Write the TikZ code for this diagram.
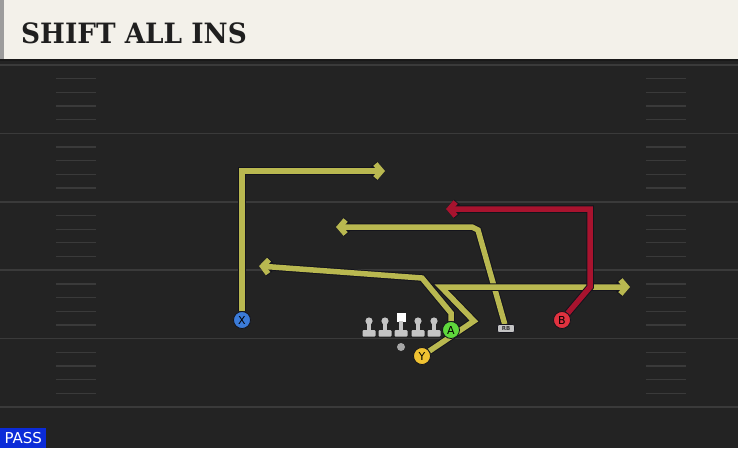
\documentclass[tikz,border=0pt]{standalone}
\usepackage{fontspec}
\newfontfamily\titlefont[FakeStretch=0.94]{DejaVu Serif}
\newfontfamily\tagfont{DejaVu Sans}
\usetikzlibrary{arrows.meta}
\definecolor{fieldgray}{HTML}{232323}
\definecolor{lineGray}{HTML}{3A3A3A}
\definecolor{headercream}{HTML}{F3F1EA}
\definecolor{headeredge}{HTML}{9C9C9C}
\definecolor{passblue}{HTML}{0B2BD8}
\definecolor{routeyellow}{HTML}{B9B850}
\definecolor{routered}{HTML}{A8132E}
\definecolor{routeedge}{HTML}{14141C}
\definecolor{xblue}{HTML}{3B7BD8}
\definecolor{agreen}{HTML}{5FD83C}
\definecolor{yyellow}{HTML}{F0C232}
\definecolor{bred}{HTML}{E0323F}
\definecolor{manGray}{HTML}{C4C4C4}
\pgfdeclarelayer{field}
\pgfdeclarelayer{routes}
\pgfsetlayers{field,routes,main}
\tikzset{
	yardline/.style={draw=lineGray, line width=1.6pt},
	hashmark/.style={draw=lineGray, line width=1.3pt},
	player/.style={circle,draw=routeedge,line width=0.8pt,minimum size=17pt,inner sep=0pt,font=\tagfont\fontsize{11}{11}\selectfont},
	rbtag/.style={rounded corners=2pt,fill=manGray,draw=routeedge,line width=0.6pt,minimum width=17pt,minimum height=8pt,inner sep=0pt,font=\tagfont\bfseries\fontsize{5.5}{5.5}\selectfont,text=black!80},
	lineman/.style={fill=manGray},
	route/.style={draw=routeyellow, line width=5.5pt, preaction={draw=routeedge, line width=7.5pt}, -{Straight Barb[length=6pt,width=14pt]}},
	redroute/.style={route, draw=routered}
}

\begin{document}
\begin{tikzpicture}[x=1pt,y=-1pt]
	\useasboundingbox (0,0) rectangle (738,448);
	
	%%%% field and header
	\begin{pgfonlayer}{field}
		\fill[fieldgray] (0,59) rectangle (738,448);
		\foreach \k in {0,...,5}
			\draw[yardline] (0,65+68.4*\k) -- (738,65+68.4*\k);
		\foreach \j in {1,...,24}{
			\pgfmathtruncatemacro\r{mod(\j,5)}
			\ifnum\r>0
				\draw[hashmark] (56,65+13.68*\j) -- (96,65+13.68*\j);
				\draw[hashmark] (646,65+13.68*\j) -- (686,65+13.68*\j);
			\fi
		}
		\fill[headercream] (0,0) rectangle (738,59);
		\fill[headeredge] (0,0) rectangle (4,59);
		\draw[black!90, line width=2.5pt] (0,60) -- (738,60);
	\end{pgfonlayer}
	
	\node[anchor=base west,inner sep=0pt,text=black!88,font=\titlefont\bfseries\fontsize{28}{28}\selectfont] (title) at (21,43) {SHIFT ALL INS};
	\node[anchor=south west,fill=passblue,text=white,minimum width=46pt,minimum height=20pt,inner sep=0pt,font=\tagfont\fontsize{15}{15}\selectfont] (pass) at (0,448) {PASS};
	
	%%%% line
	\foreach \x in {369,385,418,434}{
		\fill[lineman] (\x,321) circle (3.6);
		\fill[lineman] (\x-2,321) rectangle (\x+2,331);
		\fill[lineman,rounded corners=1pt] (\x-6.5,330) rectangle (\x+6.5,336.5);
	}
	\fill[white] (396.5,313) rectangle (405.5,322);
	\fill[lineman] (399,321) rectangle (403,331);
	\fill[lineman,rounded corners=1pt] (394.5,330) rectangle (407.5,336.5);
	\node[circle,fill=gray!70,minimum size=8pt,inner sep=0pt] (ball) at (401,347) {};
	
	%%%% players
	\node[player,fill=xblue] (X) at (242,320) {X};
	\node[player,fill=agreen] (A) at (451,330) {A};
	\node[player,fill=yyellow] (Y) at (422,356) {Y};
	\node[player,fill=bred] (B) at (562,320) {B};
	\node[rbtag] (RB) at (506,328.5) {RB};
	
	%%%% routes
	\coordinate (xend) at (385,171);
	\coordinate (aend) at (259,266);
	\coordinate (yend) at (630,287);
	\coordinate (rbend) at (336,227);
	\coordinate (bend) at (446,209);
	\begin{pgfonlayer}{routes}
		\draw[route] (X) -- (242,171) -- (xend);
		\draw[route] (A) -- (451,313) -- (422,278) -- (aend);
		\draw[route] (RB) -- (478,230) -- (472,227) -- (rbend);
		\draw[route] (Y) -- (474,321) -- (441,287) -- (yend);
		\draw[redroute] (B) -- (590,287) -- (590,209) -- (bend);
	\end{pgfonlayer}
\end{tikzpicture}
\end{document}
